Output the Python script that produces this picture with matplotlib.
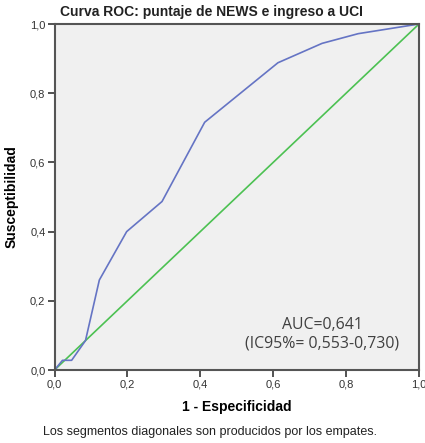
import matplotlib
matplotlib.use("Agg")
import matplotlib.pyplot as plt
import numpy as np

# curva ROC
fpr = [0.0, 0.022, 0.047, 0.085, 0.123, 0.198, 0.295, 0.412, 0.613, 0.734, 0.833, 1.0]
tpr = [0.0, 0.028, 0.028, 0.085, 0.260, 0.400, 0.487, 0.716, 0.888, 0.944, 0.972, 1.0]
ref = [0.0, 1.0]
ticks = [0.0, 0.2, 0.4, 0.6, 0.8, 1.0]
tick_labels = ["0,0", "0,2", "0,4", "0,6", "0,8", "1,0"]

plt.rcParams['font.family'] = ['Liberation Sans', 'DejaVu Sans']

fig = plt.figure(figsize=(4.25, 4.43), dpi=100)
ax = fig.add_axes([54.5/425, 1 - 370/443, 364.5/425, 346/443])
ax.set_facecolor("#f0f0f0")

ax.plot(ref, ref, color="#4cc152", lw=1.2)
ax.plot(fpr, tpr, color="#6574c4", lw=1.2)

ax.set_xlim(0, 1)
ax.set_ylim(0, 1)
ax.set_xticks(ticks)
ax.set_xticklabels(tick_labels)
ax.set_yticks(ticks)
ax.set_yticklabels(tick_labels)
ax.tick_params(direction="out", length=5, width=1.3, color="#444444",
               labelsize=8, labelcolor="#333333", pad=1.5)
for s in ax.spines.values():
    s.set_color("#555555")
    s.set_linewidth(1.5)

ax.set_xlabel("1 - Especificidad", fontsize=10, fontweight="bold", labelpad=8)
ax.set_ylabel("Susceptibilidad", fontsize=10, fontweight="bold", labelpad=8)

fig.text(0.497, 1 - 12/443, "Curva ROC: puntaje de NEWS e ingreso a UCI",
         ha="center", va="center", fontsize=10, fontweight="bold", color="#222222")
fig.text(0.494, 1 - 432/443, "Los segmentos diagonales son producidos por los empates.",
         ha="center", va="center", fontsize=9, color="#222222")

ax.text(0.735, 0.104, "AUC=0,641\n(IC95%= 0,553-0,730)", transform=ax.transAxes,
        ha="center", va="center", fontsize=11.4, color="#404040",
        family=["Open Sans", "DejaVu Sans"], linespacing=1.25)

plt.savefig("out.png", dpi=100)
